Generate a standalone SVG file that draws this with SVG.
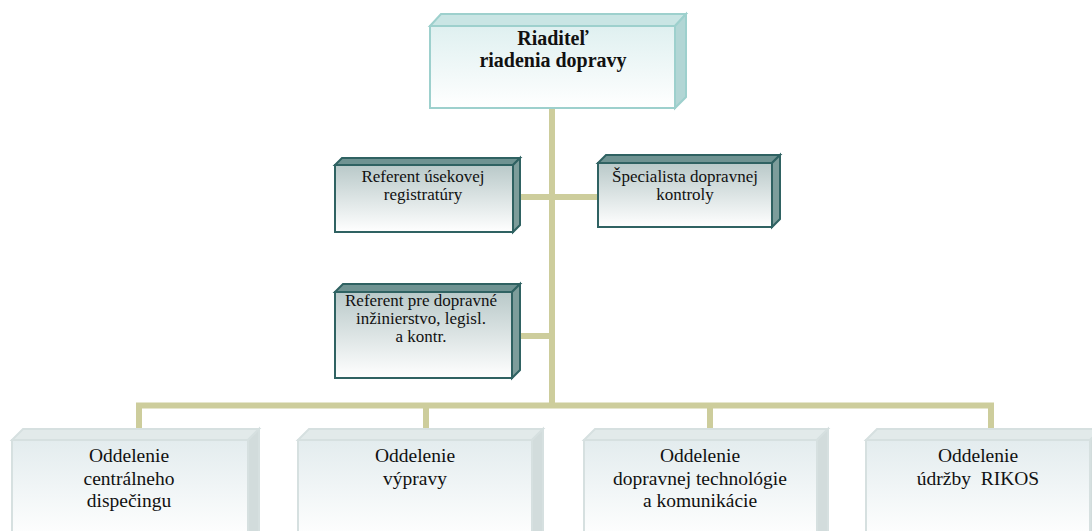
<svg xmlns="http://www.w3.org/2000/svg" width="1092" height="531" viewBox="0 0 1092 531" font-family="'Liberation Serif', 'Times New Roman', serif">
<defs>
<linearGradient id="gTop" x1="0" y1="0" x2="0" y2="1"><stop offset="0" stop-color="#dff0f0"/><stop offset="1" stop-color="#ffffff"/></linearGradient>
<linearGradient id="gMid" x1="0" y1="0" x2="0" y2="1"><stop offset="0" stop-color="#b9c9c9"/><stop offset="1" stop-color="#ffffff"/></linearGradient>
<linearGradient id="gBot" x1="0" y1="0" x2="0" y2="1"><stop offset="0" stop-color="#e3ecee"/><stop offset="1" stop-color="#ffffff"/></linearGradient>
</defs>
<style>
.conn{stroke:#cdcd9c;stroke-width:6;fill:none}
.t1f{fill:url(#gTop);stroke:#9dd0cd;stroke-width:2}
.t1t{fill:#c9e5e4;stroke:#9dd0cd;stroke-width:2}
.t1s{fill:#b2d6d5;stroke:#9dd0cd;stroke-width:2}
.t2f{fill:url(#gMid);stroke:#2f6262;stroke-width:2}
.t2t{fill:#6f9392;stroke:#2f6262;stroke-width:2}
.t2s{fill:#7d9d9b;stroke:#2f6262;stroke-width:2}
.t3f{fill:url(#gBot);stroke:#d6e0e0;stroke-width:2}
.t3t{fill:#e2eaea;stroke:#d6e0e0;stroke-width:2}
.t3s{fill:#d2dcdc;stroke:#d6e0e0;stroke-width:2}
text{font-family:"Liberation Serif","Times New Roman",serif;fill:#111;text-anchor:middle}
.big{font-size:20px;font-weight:bold}
.mid{font-size:17px}
.bot{font-size:19.5px}
</style>
<g id="connectors">
<line class="conn" x1="552" y1="108" x2="552" y2="406"/>
<line class="conn" x1="520" y1="197" x2="598" y2="197"/>
<line class="conn" x1="520" y1="336" x2="552" y2="336"/>
<polyline class="conn" points="139,430 139,405.5 991,405.5 991,430"/>
<line class="conn" x1="426" y1="405" x2="426" y2="430"/>
<line class="conn" x1="710" y1="405" x2="710" y2="430"/>
</g>
<g id="n-riaditel">
<polygon class="t1t" points="430,26 441,14 686,14 675,26"/>
<polygon class="t1s" points="675,26 686,14 686,97 675,108"/>
<rect class="t1f" x="430" y="26" width="245" height="82"/>
<text class="big" x="553" y="45">Riaditeľ</text>
<text class="big" x="553" y="67">riadenia dopravy</text>
</g>
<g id="n-referent-registratury">
<polygon class="t2t" points="335,165 342,158 520,158 513,165"/>
<polygon class="t2s" points="513,165 520,158 520,225 513,232"/>
<rect class="t2f" x="335" y="165" width="178" height="67"/>
<text class="mid" x="423" y="182">Referent úsekovej</text>
<text class="mid" x="423" y="200">registratúry</text>
</g>
<g id="n-specialista">
<polygon class="t2t" points="598,163 606,155 780,155 772,163"/>
<polygon class="t2s" points="772,163 780,155 780,219 772,227"/>
<rect class="t2f" x="598" y="163" width="174" height="64"/>
<text class="mid" x="685" y="182">Špecialista dopravnej</text>
<text class="mid" x="685" y="200">kontroly</text>
</g>
<g id="n-referent-dopravne">
<polygon class="t2t" points="335,292 343,284 520,284 512,292"/>
<polygon class="t2s" points="512,292 520,284 520,370 512,378"/>
<rect class="t2f" x="335" y="292" width="177" height="86"/>
<text class="mid" x="421" y="306">Referent pre dopravné</text>
<text class="mid" x="421" y="324">inžinierstvo, legisl.</text>
<text class="mid" x="421" y="342">a kontr.</text>
</g>
<g id="n-dispecing">
<polygon class="t3t" points="12,440 23,429 259,429 248,440"/>
<polygon class="t3s" points="248,440 259,429 259,540 248,540"/>
<rect class="t3f" x="12" y="440" width="236" height="100"/>
<text class="bot" x="129" y="462">Oddelenie</text>
<text class="bot" x="129" y="485">centrálneho</text>
<text class="bot" x="129" y="507">dispečingu</text>
</g>
<g id="n-vyprava">
<polygon class="t3t" points="298,440 309,429 543,429 532,440"/>
<polygon class="t3s" points="532,440 543,429 543,540 532,540"/>
<rect class="t3f" x="298" y="440" width="234" height="100"/>
<text class="bot" x="415" y="462">Oddelenie</text>
<text class="bot" x="415" y="485">výpravy</text>
</g>
<g id="n-technologia">
<polygon class="t3t" points="584,440 595,429 828,429 817,440"/>
<polygon class="t3s" points="817,440 828,429 828,540 817,540"/>
<rect class="t3f" x="584" y="440" width="233" height="100"/>
<text class="bot" x="700" y="462">Oddelenie</text>
<text class="bot" x="700" y="485">dopravnej technológie</text>
<text class="bot" x="700" y="507">a komunikácie</text>
</g>
<g id="n-rikos">
<polygon class="t3t" points="866,440 877,429 1101,429 1090,440"/>
<polygon class="t3s" points="1090,440 1101,429 1101,540 1090,540"/>
<rect class="t3f" x="866" y="440" width="224" height="100"/>
<text class="bot" x="978" y="462">Oddelenie</text>
<text class="bot" x="978" y="485" xml:space="preserve">údržby  RIKOS</text>
</g>
</svg>
